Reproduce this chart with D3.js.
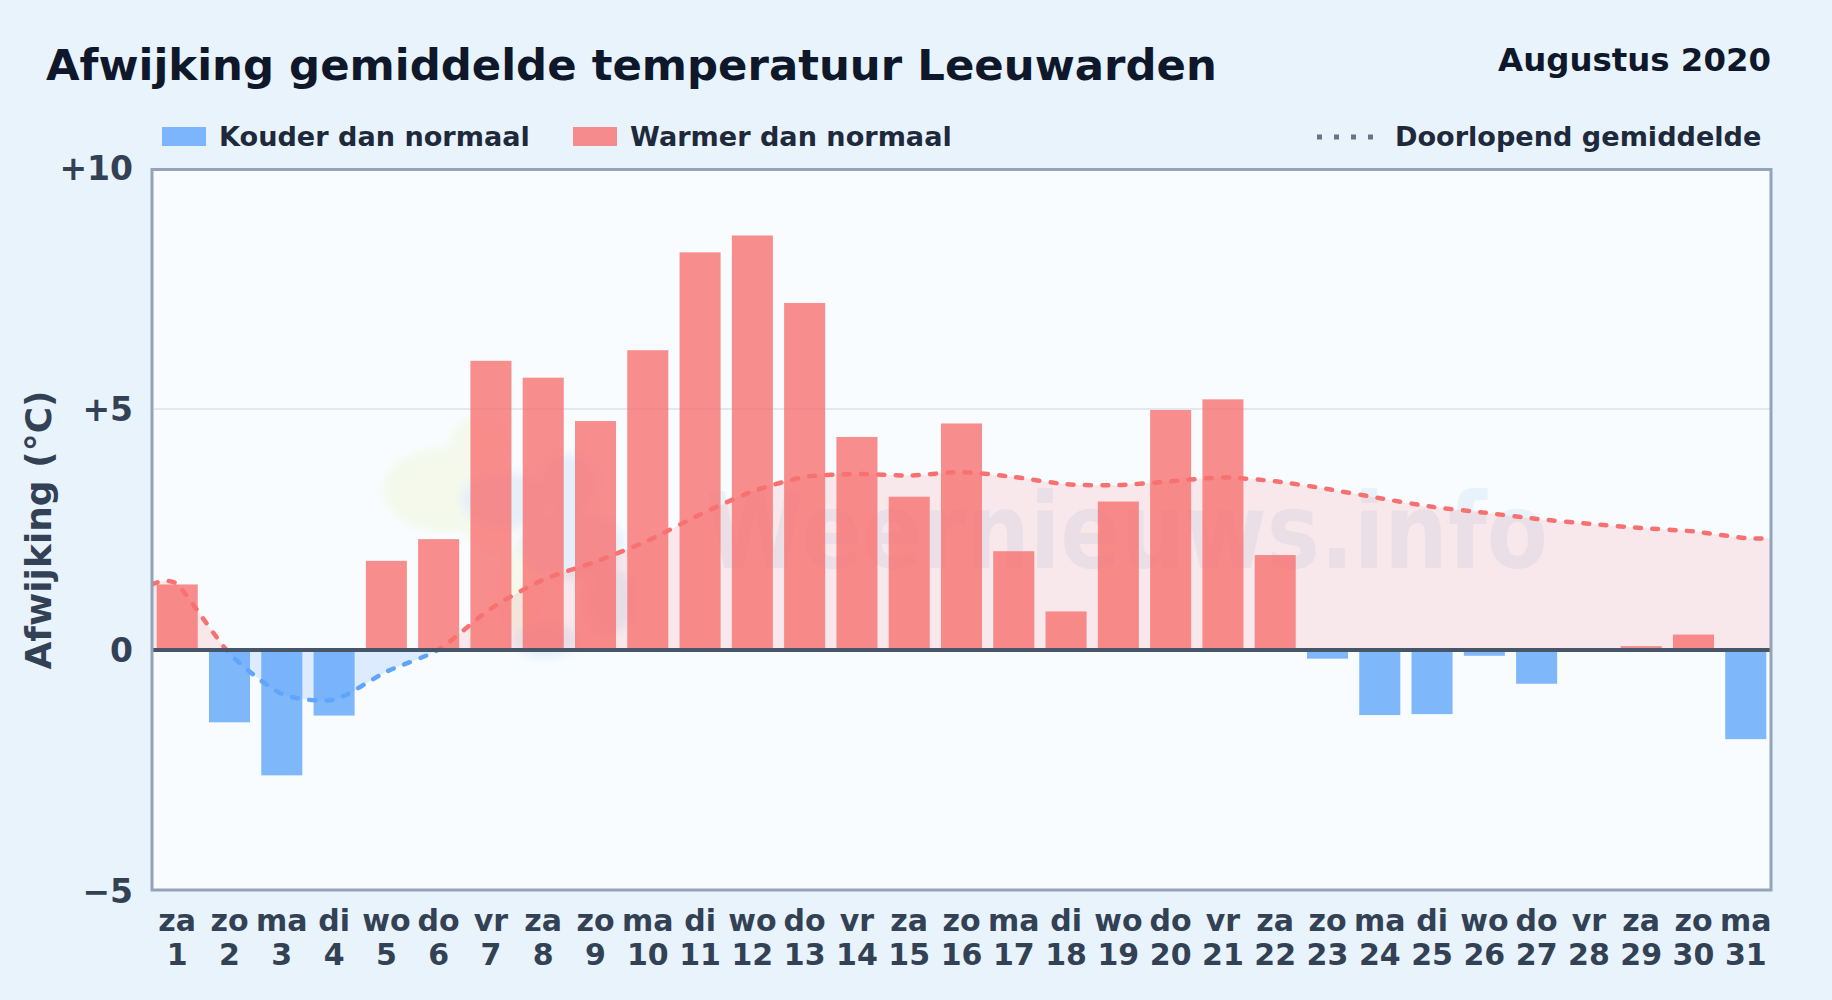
<!DOCTYPE html>
<html>
<head>
<meta charset="utf-8">
<title>Afwijking gemiddelde temperatuur Leeuwarden</title>
<script src="https://cdn.jsdelivr.net/npm/d3@7"></script>
<style>
  html, body { margin: 0; padding: 0; background: #e8f3fc; overflow: hidden; }
  svg { display: block; font-family: "DejaVu Sans", sans-serif; font-weight: bold; }
</style>
</head>
<body>
<div id="viz"></div>
<script>
// Data
const weekdays = ["za","zo","ma","di","wo","do","vr","za","zo","ma","di","wo","do","vr","za","zo","ma","di","wo","do","vr","za","zo","ma","di","wo","do","vr","za","zo","ma"];
const days = [1,2,3,4,5,6,7,8,9,10,11,12,13,14,15,16,17,18,19,20,21,22,23,24,25,26,27,28,29,30,31];
const deviation = [1.36,-1.5,-2.6,-1.36,1.85,2.3,6.0,5.65,4.75,6.22,8.25,8.6,7.2,4.42,3.18,4.7,2.05,0.8,3.08,4.98,5.2,1.97,-0.18,-1.35,-1.33,-0.12,-0.7,0,0.08,0.32,-1.85];
const runningMean = [1.36,-0.07,-0.91,-1.03,-0.45,0.01,0.86,1.46,1.83,2.27,2.81,3.29,3.59,3.65,3.62,3.69,3.59,3.44,3.42,3.5,3.58,3.5,3.34,3.15,2.97,2.85,2.72,2.62,2.53,2.46,2.32];
const yTicks = [-5,0,5,10];
const yTickLabels = ["\u22125","0","+5","+10"];

const width = 1832;
const height = 1000;

// Plot frame
const margin = { top: 169.5, right: 61, bottom: 110, left: 152 };

const colors = {
    warm: "#f87171",
    cold: "#60a5fa",
    title: "#0f172a",
    legend: "#1e293b",
    tick: "#334155",
    frame: "#94a3b8",
    zero: "#475569",
    grid: "#e2e8f0"
};

const svg = d3.select("#viz")
    .append("svg")
    .attr("width", width)
    .attr("height", height);

const xBand = d3.scaleBand()
    .domain(days)
    .range([margin.left, width - margin.right])
    .paddingInner(0.215)
    .paddingOuter(0.09);

const yScale = d3.scaleLinear()
    .domain([-5, 10])
    .range([891, 168]);

const xCenter = d => xBand(d) + xBand.bandwidth() / 2;
const plotRight = width - margin.right;
const plotBottom = height - margin.bottom;

// Plot background
svg.append("rect")
    .attr("x", margin.left)
    .attr("y", margin.top)
    .attr("width", plotRight - margin.left)
    .attr("height", plotBottom - margin.top)
    .attr("fill", "#f8fcff");

const defs = svg.append("defs");

defs.append("filter")
    .attr("id", "soft")
    .append("feGaussianBlur")
    .attr("stdDeviation", 4);

// Clip the running mean in a part above and a part below zero
defs.append("clipPath").attr("id", "above").append("rect")
    .attr("x", margin.left).attr("y", margin.top)
    .attr("width", plotRight - margin.left)
    .attr("height", yScale(0) - margin.top);

defs.append("clipPath").attr("id", "below").append("rect")
    .attr("x", margin.left).attr("y", yScale(0))
    .attr("width", plotRight - margin.left)
    .attr("height", plotBottom - yScale(0));

// Watermark, logo blobs and site name
const logo = svg.append("g").attr("filter", "url(#soft)");

logo.selectAll("ellipse.green")
    .data([[445, 490, 62, 42], [478, 445, 28, 28], [490, 510, 32, 40], [520, 590, 20, 50]])
    .join("ellipse")
    .attr("cx", d => d[0]).attr("cy", d => d[1])
    .attr("rx", d => d[2]).attr("ry", d => d[3])
    .attr("fill", "#f4f9ec");

logo.selectAll("ellipse.blue")
    .data([[505, 500, 44, 28], [568, 484, 28, 30], [572, 545, 52, 34], [545, 640, 32, 18], [610, 600, 24, 34]])
    .join("ellipse")
    .attr("cx", d => d[0]).attr("cy", d => d[1])
    .attr("rx", d => d[2]).attr("ry", d => d[3])
    .attr("fill", "#e5effa");

svg.append("text")
    .attr("x", 706)
    .attr("y", 568)
    .attr("font-size", 105)
    .attr("textLength", 842)
    .attr("lengthAdjust", "spacingAndGlyphs")
    .attr("fill", "#e8f2fb")
    .text("Weernieuws.info");

// Gridlines
svg.append("g")
    .selectAll("line")
    .data(yTicks.filter(t => t === 5))
    .join("line")
    .attr("x1", margin.left)
    .attr("x2", plotRight)
    .attr("y1", d => yScale(d))
    .attr("y2", d => yScale(d))
    .attr("stroke", colors.grid)
    .attr("stroke-width", 2);

// Running mean runs on to both frame edges
const meanPoints = [[margin.left, runningMean[0]]]
    .concat(days.map((d, i) => [xCenter(d), runningMean[i]]))
    .concat([[plotRight, runningMean[runningMean.length - 1]]]);

const meanCurve = d3.curveCardinal.tension(0.3);

const meanArea = d3.area()
    .x(d => d[0])
    .y0(yScale(0))
    .y1(d => yScale(d[1]))
    .curve(meanCurve);

const meanLine = d3.line()
    .x(d => d[0])
    .y(d => yScale(d[1]))
    .curve(meanCurve);

svg.append("path").datum(meanPoints)
    .attr("d", meanArea)
    .attr("clip-path", "url(#above)")
    .attr("fill", colors.warm)
    .attr("fill-opacity", 0.14);

svg.append("path").datum(meanPoints)
    .attr("d", meanArea)
    .attr("clip-path", "url(#below)")
    .attr("fill", colors.cold)
    .attr("fill-opacity", 0.18);

// Bars
svg.append("g")
    .selectAll("rect")
    .data(deviation)
    .join("rect")
    .attr("x", (d, i) => xBand(days[i]))
    .attr("width", xBand.bandwidth())
    .attr("y", d => yScale(Math.max(d, 0)))
    .attr("height", d => Math.abs(yScale(d) - yScale(0)))
    .attr("fill", d => d >= 0 ? colors.warm : colors.cold)
    .attr("fill-opacity", 0.8);

[["above", colors.warm], ["below", colors.cold]].forEach(([clip, color]) => {
    svg.append("path").datum(meanPoints)
        .attr("d", meanLine)
        .attr("clip-path", `url(#${clip})`)
        .attr("fill", "none")
        .attr("stroke", color)
        .attr("stroke-width", 4.5)
        .attr("stroke-linecap", "round")
        .attr("stroke-dasharray", "6 11.3");
});

// Zero line
svg.append("line")
    .attr("x1", margin.left)
    .attr("x2", plotRight)
    .attr("y1", yScale(0))
    .attr("y2", yScale(0))
    .attr("stroke", colors.zero)
    .attr("stroke-width", 4);

// Frame
svg.append("rect")
    .attr("x", margin.left)
    .attr("y", margin.top)
    .attr("width", plotRight - margin.left)
    .attr("height", plotBottom - margin.top)
    .attr("fill", "none")
    .attr("stroke", colors.frame)
    .attr("stroke-width", 3);

// Y axis
const yAxis = d3.axisLeft(yScale)
    .tickValues(yTicks)
    .tickSize(0)
    .tickPadding(19)
    .tickFormat((d, i) => yTickLabels[i]);

const yG = svg.append("g")
    .attr("transform", `translate(${margin.left}, 0)`)
    .call(yAxis);

yG.select(".domain").remove();
yG.selectAll("text")
    .attr("font-size", 33)
    .attr("font-family", "DejaVu Sans")
    .attr("dy", "0.36em")
    .attr("fill", colors.tick);

// X axis, weekday above day number
const xAxis = d3.axisBottom(xBand)
    .tickSize(0)
    .tickFormat("");

const xG = svg.append("g")
    .attr("transform", `translate(0, ${plotBottom})`)
    .call(xAxis);

xG.select(".domain").remove();
xG.selectAll("text").remove();

xG.selectAll(".tick").each(function(d, i) {
    const tick = d3.select(this).append("text")
        .attr("text-anchor", "middle")
        .attr("font-size", 30)
        .attr("font-family", "DejaVu Sans")
        .attr("fill", colors.tick);
    tick.append("tspan").attr("x", 0).attr("y", 41).text(weekdays[i]);
    tick.append("tspan").attr("x", 0).attr("y", 75).text(d);
});

// Axis name
svg.append("text")
    .attr("transform", `translate(51, 530) rotate(-90)`)
    .attr("text-anchor", "middle")
    .attr("font-size", 36)
    .attr("fill", colors.tick)
    .text("Afwijking (°C)");

// Titles
svg.append("text")
    .attr("x", 46)
    .attr("y", 80)
    .attr("font-size", 43.4)
    .attr("fill", colors.title)
    .text("Afwijking gemiddelde temperatuur Leeuwarden");

svg.append("text")
    .attr("x", 1771)
    .attr("y", 71)
    .attr("text-anchor", "end")
    .attr("font-size", 32.4)
    .attr("fill", colors.title)
    .text("Augustus 2020");

// Legend
const legendItems = [
    { label: "Kouder dan normaal", color: colors.cold, swatch: 162, text: 219 },
    { label: "Warmer dan normaal", color: colors.warm, swatch: 573, text: 630 }
];

legendItems.forEach(item => {
    svg.append("rect")
        .attr("x", item.swatch)
        .attr("y", 127)
        .attr("width", 44)
        .attr("height", 19)
        .attr("fill", item.color)
        .attr("fill-opacity", 0.8);
    svg.append("text")
        .attr("x", item.text)
        .attr("y", 146)
        .attr("font-size", 27.1)
        .attr("fill", colors.legend)
        .text(item.label);
});

svg.append("line")
    .attr("x1", 1317)
    .attr("x2", 1373)
    .attr("y1", 137)
    .attr("y2", 137)
    .attr("stroke", "#64748b")
    .attr("stroke-width", 5)
    .attr("stroke-dasharray", "5 12");

svg.append("text")
    .attr("x", 1395)
    .attr("y", 146)
    .attr("font-size", 27.1)
    .attr("fill", colors.legend)
    .text("Doorlopend gemiddelde");
</script>
</body>
</html>
